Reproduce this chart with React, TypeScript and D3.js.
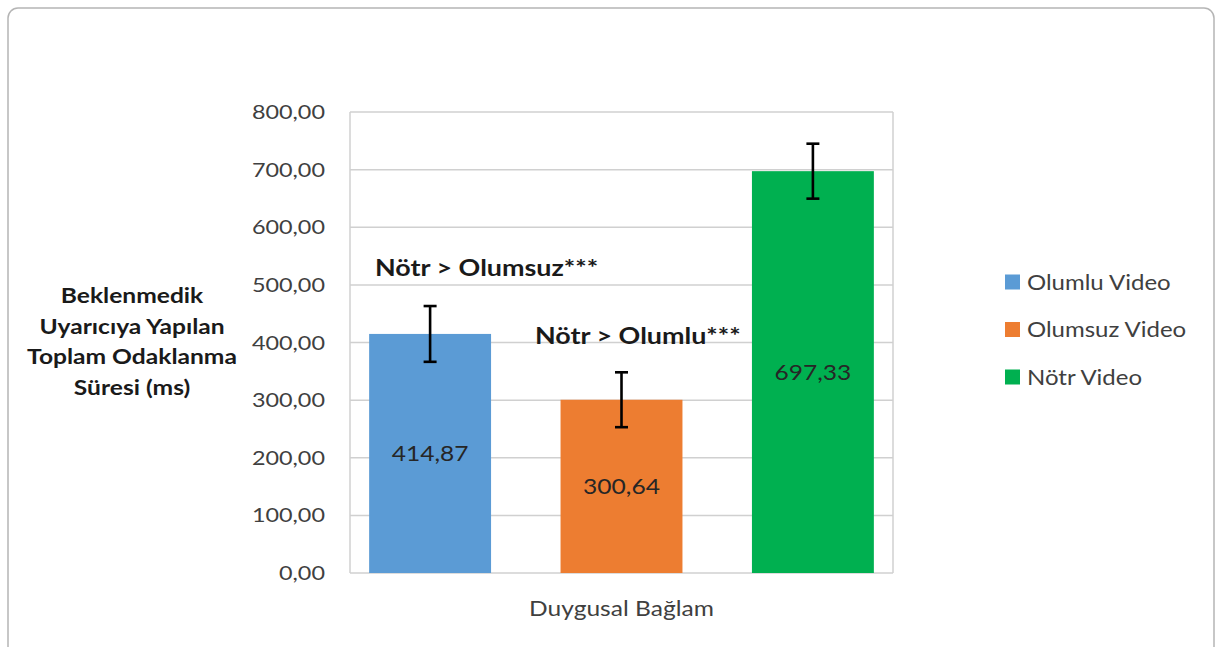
import React from "react";
import * as d3 from "d3";

const seriesNames = ["Olumlu Video", "Olumsuz Video", "Nötr Video"];
const seriesValues = [414.87, 300.64, 697.33];
const seriesErrors = [48.4, 47.6, 47.7];
const seriesColors = ["#5b9bd5", "#ed7d31", "#00b050"];
const valueLabels = ["414,87", "300,64", "697,33"];
const yTicks = [0, 100, 200, 300, 400, 500, 600, 700, 800];
const categoryLabel = "Duygusal Bağlam";
const yTitleLines = ["Beklenmedik", "Uyarıcıya Yapılan", "Toplam Odaklanma", "Süresi (ms)"];
const annotations = [
  { text: "Nötr > Olumsuz***", value: 530 },
  { text: "Nötr > Olumlu***", value: 412 },
];

const W = 1221;
const H = 647;
const SX = 1.17;
const FONT = "Lato, 'Open Sans', sans-serif";

const fmt = (v: number) => d3.format(".2f")(v).replace(".", ",");

function T(props: {
  x: number;
  y: number;
  children: React.ReactNode;
  size: number;
  anchor?: string;
  weight?: string | number;
  fill?: string;
  sx?: number;
}) {
  const { x, y, children, size, anchor = "start", weight = "normal", fill = "#404040", sx = SX } = props;
  return (
    <text
      transform={`translate(${x},${y}) scale(${sx},1)`}
      fontSize={size}
      fontFamily={FONT}
      fontWeight={weight}
      textAnchor={anchor}
      fill={fill}
    >
      {children}
    </text>
  );
}

export default function App() {
  const left = 350;
  const right = 893;
  const top = 112;
  const bottom = 573;

  const y = d3.scaleLinear().domain([0, 800]).range([bottom, top]);
  const x = d3
    .scaleBand<string>()
    .domain(seriesNames)
    .range([left, right])
    .paddingInner(0.363)
    .paddingOuter(0.1);
  const bw = x.bandwidth();
  const grid = "#d0d0d0";

  return (
    <svg
      width={W}
      height={H}
      style={{ position: "absolute", left: 0, top: 0, background: "#fff" }}
    >
      <rect x={8} y={8} width={1206} height={650} rx={10} fill="#fff" stroke="#b5b5b5" strokeWidth={1.5} />

      {/* gridlines */}
      {yTicks.map((t) => (
        <line key={t} x1={left} x2={right} y1={y(t)} y2={y(t)} stroke={grid} strokeWidth={1.5} />
      ))}
      <line x1={left} x2={left} y1={top} y2={bottom} stroke={grid} strokeWidth={1.5} />
      <line x1={right} x2={right} y1={top} y2={bottom} stroke={grid} strokeWidth={1.5} />

      {/* tick labels */}
      {yTicks.map((t) => (
        <T key={t} x={325} y={y(t) + 7} size={20} anchor="end">
          {fmt(t)}
        </T>
      ))}

      {/* bars */}
      {seriesNames.map((s, i) => (
        <rect key={s} x={x(s)} y={y(seriesValues[i])} width={bw} height={bottom - y(seriesValues[i])} fill={seriesColors[i]} />
      ))}

      {/* error bars */}
      {seriesNames.map((s, i) => {
        const cx = (x(s) as number) + bw / 2;
        const hi = y(seriesValues[i] + seriesErrors[i]);
        const lo = y(seriesValues[i] - seriesErrors[i]);
        return (
          <g key={s} stroke="#000" strokeWidth={2.6}>
            <line x1={cx} x2={cx} y1={hi} y2={lo} />
            <line x1={cx - 6.5} x2={cx + 6.5} y1={hi} y2={hi} />
            <line x1={cx - 6.5} x2={cx + 6.5} y1={lo} y2={lo} />
          </g>
        );
      })}

      {/* value labels */}
      {seriesNames.map((s, i) => (
        <T key={s} x={(x(s) as number) + bw / 2} y={y(seriesValues[i] / 2) + 8} size={21} anchor="middle" fill="#262626">
          {valueLabels[i]}
        </T>
      ))}

      {/* annotations */}
      <T x={375} y={y(annotations[0].value) + 8} size={23} weight="bold" fill="#1a1a1a">
        {annotations[0].text}
      </T>
      <T x={535} y={y(annotations[1].value) + 8} size={23} weight="bold" fill="#1a1a1a">
        {annotations[1].text}
      </T>

      {/* y title */}
      {yTitleLines.map((l, i) => (
        <T key={l} x={132} y={303 + i * 30.5} size={20.5} weight="bold" anchor="middle" fill="#1a1a1a" sx={1.2}>
          {l}
        </T>
      ))}

      {/* x title */}
      <T x={(left + right) / 2} y={616} size={21} anchor="middle">
        {categoryLabel}
      </T>

      {/* legend */}
      {seriesNames.map((s, i) => {
        const cy = 282 + i * 47.5;
        return (
          <g key={s}>
            <rect x={1005} y={cy - 7.5} width={15} height={15} fill={seriesColors[i]} />
            <T x={1027} y={cy + 7.5} size={20.5}>
              {s}
            </T>
          </g>
        );
      })}
    </svg>
  );
}
